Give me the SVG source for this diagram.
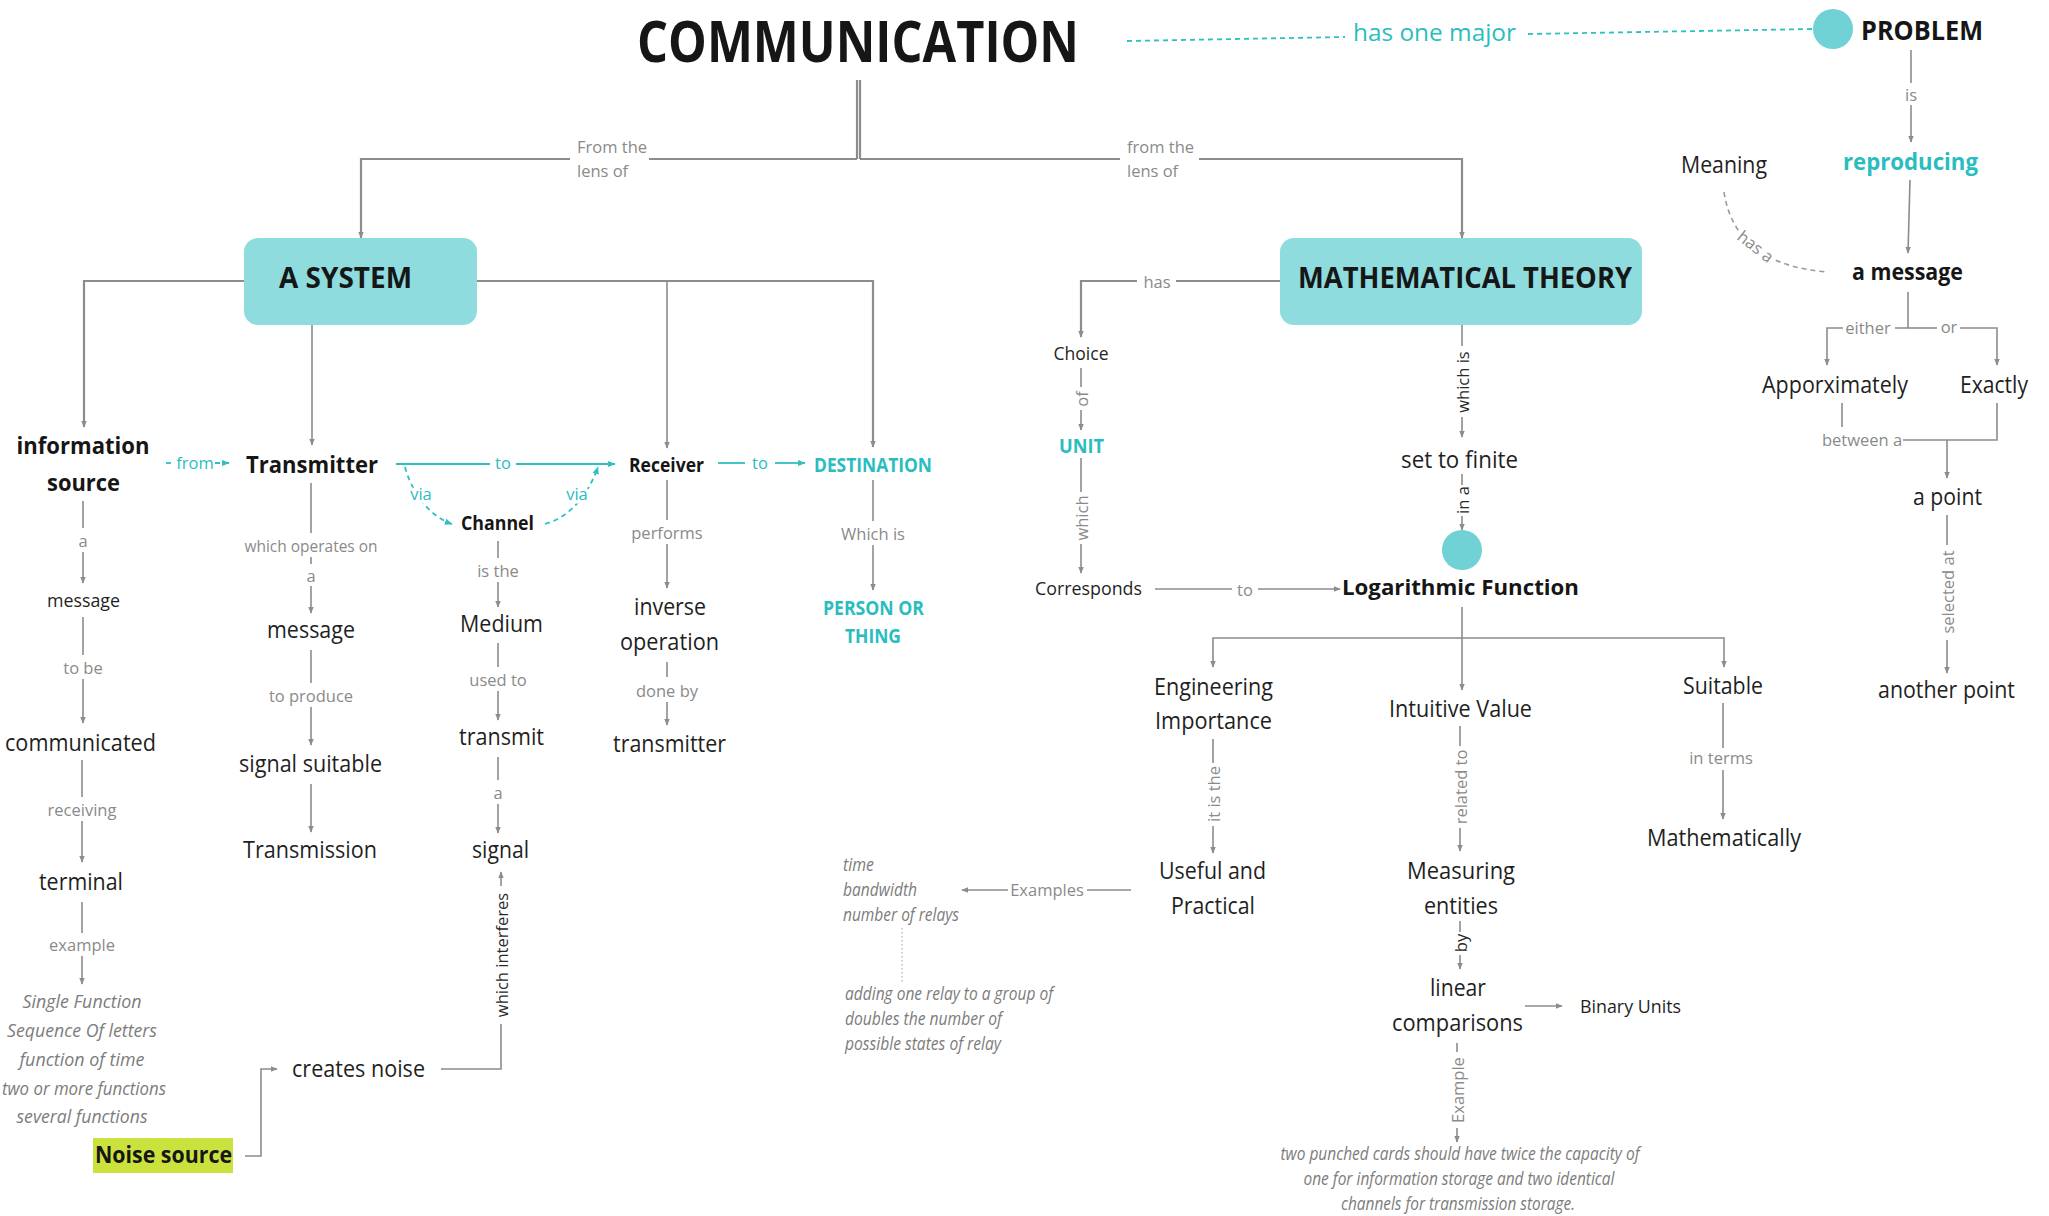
<svg xmlns="http://www.w3.org/2000/svg" width="2049" height="1216" viewBox="0 0 2049 1216">
  <defs>
    <style>
      text { font-family: 'Open Sans', 'Noto Sans', 'Liberation Sans', sans-serif; }
      .n { font-size: 23.5px; fill: #1f1f1f; text-anchor: middle; }
      .ns { font-size: 19px; fill: #1f1f1f; text-anchor: middle; }
      .b { font-weight: 700; fill: #161616; text-anchor: middle; }
      .teal { fill: #29bdc0; }
      .lbl { font-size: 16.5px; fill: #8a8a8a; text-anchor: middle; dominant-baseline: central; }
      .lbl-d { font-size: 16.5px; fill: #2a2a2a; text-anchor: middle; dominant-baseline: central; }
      .lbl-t { font-size: 16.5px; fill: #29bdc0; text-anchor: middle; dominant-baseline: central; }
      .halo { stroke: #ffffff; stroke-width: 7px; paint-order: stroke; stroke-linejoin: round; }
      .it { font-size: 18px; font-style: italic; fill: #7c7c7c; }
      .box { fill: #8edcde; }
      .dot { fill: #70d2d4; }
      .c { fill: none; stroke: #8c8c8c; stroke-width: 1.6; }
      .c2 { fill: none; stroke: #8c8c8c; stroke-width: 2.2; }
      .ct { fill: none; stroke: #2fc0c2; stroke-width: 1.8; }
      .cdt { fill: none; stroke: #2fc0c2; stroke-width: 1.8; stroke-dasharray: 5 4; }
      .cdg { fill: none; stroke: #9a9a9a; stroke-width: 1.6; stroke-dasharray: 5 4; }
      .dotted { fill: none; stroke: #b0b0b0; stroke-width: 1.2; stroke-dasharray: 1.5 2.5; }
    </style>
    <marker id="ah" viewBox="0 0 10 10" refX="9" refY="5" markerWidth="7" markerHeight="7" markerUnits="userSpaceOnUse" orient="auto">
      <path d="M0,1 L10,5 L0,9 z" fill="#8c8c8c"/>
    </marker>
    <marker id="aht" viewBox="0 0 10 10" refX="9" refY="5" markerWidth="8" markerHeight="8" markerUnits="userSpaceOnUse" orient="auto">
      <path d="M0,1 L10,5 L0,9 z" fill="#2fc0c2"/>
    </marker>
  </defs>

  <rect width="2049" height="1216" fill="#ffffff"/>

  <!-- connectors -->
  <g id="connectors">
    <!-- title trunk -->
    <path class="c2" d="M857 80 V159 M860 80 V159"/>
    <path class="c2" d="M857 159 H649"/>
    <path class="c2" d="M570 159 H361 V238" marker-end="url(#ah)"/>
    <path class="c2" d="M860 159 H1120"/>
    <path class="c2" d="M1199 159 H1462 V238" marker-end="url(#ah)"/>

    <!-- A SYSTEM branches -->
    <path class="c2" d="M244 281 H84 V427" marker-end="url(#ah)"/>
    <path class="c" d="M312 325 V445" marker-end="url(#ah)"/>
    <path class="c2" d="M477 281 H873 V447" marker-end="url(#ah)"/>
    <path class="c" d="M667 281 V448" marker-end="url(#ah)"/>

    <!-- information source column -->
    <path class="c" d="M83 501 V528"/>
    <path class="c" d="M83 552 V583" marker-end="url(#ah)"/>
    <path class="c" d="M83 617 V655"/>
    <path class="c" d="M83 679 V723" marker-end="url(#ah)"/>
    <path class="c" d="M82 760 V797"/>
    <path class="c" d="M82 821 V862" marker-end="url(#ah)"/>
    <path class="c" d="M82 902 V933"/>
    <path class="c" d="M82 956 V984" marker-end="url(#ah)"/>

    <!-- transmitter column -->
    <path class="c" d="M311 483 V533 M311 557 V564"/>
    <path class="c" d="M311 586 V613" marker-end="url(#ah)"/>
    <path class="c" d="M311 650 V683"/>
    <path class="c" d="M311 707 V745" marker-end="url(#ah)"/>
    <path class="c" d="M311 784 V832" marker-end="url(#ah)"/>

    <!-- teal flow along the system row -->
    <path class="cdt" d="M166 463 H175"/>
    <path class="cdt" d="M215 463 H229" marker-end="url(#aht)"/>
    <path class="ct" d="M396 464 H490"/>
    <path class="ct" d="M516 464 H615" marker-end="url(#aht)"/>
    <path class="cdt" d="M405 467 C411 490 428 516 452 524" marker-end="url(#aht)"/>
    <path class="cdt" d="M545 524 C570 517 588 495 598 467" marker-end="url(#aht)"/>
    <path class="ct" d="M718 463 H745"/>
    <path class="ct" d="M775 463 H805" marker-end="url(#aht)"/>

    <!-- channel column -->
    <path class="c" d="M498 541 V558"/>
    <path class="c" d="M498 582 V607" marker-end="url(#ah)"/>
    <path class="c" d="M498 643 V667"/>
    <path class="c" d="M498 691 V720" marker-end="url(#ah)"/>
    <path class="c" d="M498 757 V780"/>
    <path class="c" d="M498 804 V833" marker-end="url(#ah)"/>
    <path class="c" d="M441 1069 H501 V1024"/>
    <path class="c" d="M501 886 V872" marker-end="url(#ah)"/>

    <!-- noise source -->
    <path class="c" d="M245 1156 H261 V1069 H277" marker-end="url(#ah)"/>

    <!-- receiver column -->
    <path class="c" d="M667 480 V520"/>
    <path class="c" d="M667 544 V588" marker-end="url(#ah)"/>
    <path class="c" d="M667 662 V677"/>
    <path class="c" d="M667 702 V725" marker-end="url(#ah)"/>

    <!-- destination column -->
    <path class="c" d="M873 480 V521"/>
    <path class="c" d="M873 545 V590" marker-end="url(#ah)"/>

    <!-- mathematical theory: choice branch -->
    <path class="c2" d="M1280 281 H1176"/>
    <path class="c2" d="M1137 281 H1081 V337" marker-end="url(#ah)"/>
    <path class="c" d="M1081 368 V387"/>
    <path class="c" d="M1081 410 V430" marker-end="url(#ah)"/>
    <path class="c" d="M1081 458 V492"/>
    <path class="c" d="M1081 544 V573" marker-end="url(#ah)"/>
    <path class="c" d="M1155 589 H1232"/>
    <path class="c" d="M1258 589 H1340" marker-end="url(#ah)"/>

    <!-- mathematical theory: main stem -->
    <path class="c" d="M1462 325 V346"/>
    <path class="c" d="M1462 417 V437" marker-end="url(#ah)"/>
    <path class="c" d="M1462 474 V485"/>
    <path class="c" d="M1462 516 V530" marker-end="url(#ah)"/>
    <path class="c" d="M1462 607 V690" marker-end="url(#ah)"/>
    <path class="c" d="M1462 638 H1213 V667" marker-end="url(#ah)"/>
    <path class="c" d="M1462 638 H1724 V667" marker-end="url(#ah)"/>

    <!-- engineering importance -->
    <path class="c" d="M1213 739 V763"/>
    <path class="c" d="M1213 826 V853" marker-end="url(#ah)"/>
    <path class="c" d="M1131 890 H1087"/>
    <path class="c" d="M1008 890 H962" marker-end="url(#ah)"/>
    <path class="dotted" d="M902 928 V982"/>

    <!-- intuitive value -->
    <path class="c" d="M1460 726 V746"/>
    <path class="c" d="M1460 828 V851" marker-end="url(#ah)"/>
    <path class="c" d="M1460 921 V932"/>
    <path class="c" d="M1460 955 V969" marker-end="url(#ah)"/>
    <path class="c" d="M1525 1006 H1562" marker-end="url(#ah)"/>
    <path class="c" d="M1457 1043 V1052"/>
    <path class="c" d="M1457 1128 V1142" marker-end="url(#ah)"/>

    <!-- suitable -->
    <path class="c" d="M1723 703 V748"/>
    <path class="c" d="M1723 770 V819" marker-end="url(#ah)"/>

    <!-- problem branch -->
    <path class="cdt" d="M1127 41 L1345 37"/>
    <path class="cdt" d="M1528 34 L1813 29"/>
    <path class="c" d="M1911 50 V83"/>
    <path class="c" d="M1911 105 V142" marker-end="url(#ah)"/>
    <path class="c" d="M1910 180 L1908 253" marker-end="url(#ah)"/>
    <path class="cdg" d="M1724 192 Q1735 265 1828 272"/>
    <path class="c" d="M1908 292 V328 H1895"/>
    <path class="c" d="M1843 328 H1827 V365" marker-end="url(#ah)"/>
    <path class="c" d="M1908 328 H1937"/>
    <path class="c" d="M1960 328 H1997 V365" marker-end="url(#ah)"/>
    <path class="c" d="M1842 403 V427"/>
    <path class="c" d="M1903 440 H1997 V403"/>
    <path class="c" d="M1947 440 V478" marker-end="url(#ah)"/>
    <path class="c" d="M1947 515 V545"/>
    <path class="c" d="M1947 640 V673" marker-end="url(#ah)"/>
  </g>

  <!-- connector labels -->
  <g id="labels">
    <text class="lbl" x="577" y="153" style="text-anchor:start;dominant-baseline:auto">From the</text>
    <text class="lbl" x="577" y="177" style="text-anchor:start;dominant-baseline:auto">lens of</text>
    <text class="lbl" x="1127" y="153" style="text-anchor:start;dominant-baseline:auto">from the</text>
    <text class="lbl" x="1127" y="177" style="text-anchor:start;dominant-baseline:auto">lens of</text>

    <text class="lbl" x="83" y="540">a</text>
    <text class="lbl" x="83" y="667">to be</text>
    <text class="lbl" x="82" y="809">receiving</text>
    <text class="lbl" x="82" y="944">example</text>

    <text class="lbl" x="311" y="545" textLength="133" lengthAdjust="spacingAndGlyphs">which operates on</text>
    <text class="lbl" x="311" y="575">a</text>
    <text class="lbl" x="311" y="695">to produce</text>

    <text class="lbl-t" x="195" y="462">from</text>
    <text class="lbl-t" x="503" y="462">to</text>
    <text class="lbl-t halo" x="421" y="493">via</text>
    <text class="lbl-t halo" x="577" y="493">via</text>
    <text class="lbl-t" x="760" y="462">to</text>

    <text class="lbl" x="498" y="570">is the</text>
    <text class="lbl" x="498" y="679">used to</text>
    <text class="lbl" x="498" y="792">a</text>
    <text class="lbl-d" transform="translate(501,955) rotate(-90)">which interferes</text>

    <text class="lbl" x="667" y="532">performs</text>
    <text class="lbl" x="667" y="690">done by</text>
    <text class="lbl" x="873" y="533">Which is</text>

    <text class="lbl" x="1157" y="281">has</text>
    <text class="lbl" transform="translate(1081,399) rotate(-90)">of</text>
    <text class="lbl" transform="translate(1081,518) rotate(-90)">which</text>
    <text class="lbl" x="1245" y="589">to</text>
    <text class="lbl-d" transform="translate(1462,382) rotate(-90)">which is</text>
    <text class="lbl-d" transform="translate(1462,500) rotate(-90)">in a</text>
    <text class="lbl" transform="translate(1213,794) rotate(-90)">it is the</text>
    <text class="lbl" x="1047" y="889">Examples</text>
    <text class="lbl" transform="translate(1460,787) rotate(-90)">related to</text>
    <text class="lbl-d" transform="translate(1460,943) rotate(-90)">by</text>
    <text class="lbl" transform="translate(1457,1090) rotate(-90)">Example</text>
    <text class="lbl" x="1721" y="757">in terms</text>

    <text class="lbl" x="1911" y="94">is</text>
    <text class="lbl halo" transform="translate(1756,246) rotate(38)">has a</text>
    <text class="lbl" x="1868" y="327">either</text>
    <text class="lbl" x="1949" y="326">or</text>
    <text class="lbl" x="1862" y="439">between a</text>
    <text class="lbl" transform="translate(1947,592) rotate(-90)">selected at</text>
  </g>

  <!-- nodes -->
  <g id="node-communication">
    <text class="b" x="858" y="62" font-size="58" textLength="442" lengthAdjust="spacingAndGlyphs">COMMUNICATION</text>
  </g>
  <g id="node-has-one-major">
    <text class="teal" x="1353" y="41" font-size="24" textLength="163" lengthAdjust="spacingAndGlyphs">has one major</text>
  </g>
  <g id="node-problem">
    <circle class="dot" cx="1833" cy="29" r="20"/>
    <text class="b" x="1861" y="40" font-size="27" style="text-anchor:start" textLength="122" lengthAdjust="spacingAndGlyphs">PROBLEM</text>
  </g>

  <g id="node-a-system">
    <rect class="box" x="244" y="238" width="233" height="87" rx="14"/>
    <text class="b" x="279" y="288" font-size="29" style="text-anchor:start" textLength="133" lengthAdjust="spacingAndGlyphs">A SYSTEM</text>
  </g>
  <g id="node-mathematical-theory">
    <rect class="box" x="1280" y="238" width="362" height="87" rx="14"/>
    <text class="b" x="1298" y="288" font-size="29" style="text-anchor:start" textLength="334" lengthAdjust="spacingAndGlyphs">MATHEMATICAL THEORY</text>
  </g>

  <g id="node-information-source">
    <text class="b" x="83" y="454" font-size="23" textLength="133" lengthAdjust="spacingAndGlyphs">information</text>
    <text class="b" x="83.5" y="491" font-size="23" textLength="73" lengthAdjust="spacingAndGlyphs">source</text>
  </g>
  <g id="node-message-1"><text class="ns" x="83.5" y="607" textLength="73" lengthAdjust="spacingAndGlyphs">message</text></g>
  <g id="node-communicated"><text class="n" x="80.5" y="751" textLength="151" lengthAdjust="spacingAndGlyphs">communicated</text></g>
  <g id="node-terminal"><text class="n" x="81" y="890" textLength="84" lengthAdjust="spacingAndGlyphs">terminal</text></g>
  <g id="node-examples-terminal">
    <text class="it" x="82" y="1008" font-size="20" text-anchor="middle" textLength="119" lengthAdjust="spacingAndGlyphs">Single Function</text>
    <text class="it" x="82" y="1037" font-size="20" text-anchor="middle" textLength="150" lengthAdjust="spacingAndGlyphs">Sequence Of letters</text>
    <text class="it" x="82" y="1066" font-size="20" text-anchor="middle" textLength="125" lengthAdjust="spacingAndGlyphs">function of time</text>
    <text class="it" x="84" y="1095" font-size="20" text-anchor="middle" textLength="164" lengthAdjust="spacingAndGlyphs">two or more functions</text>
    <text class="it" x="82" y="1123" font-size="20" text-anchor="middle" textLength="131" lengthAdjust="spacingAndGlyphs">several functions</text>
  </g>
  <g id="node-noise-source">
    <rect x="93" y="1138" width="140" height="35" fill="#cbe13e"/>
    <text class="b" x="163.5" y="1163" font-size="23" textLength="137" lengthAdjust="spacingAndGlyphs">Noise source</text>
  </g>
  <g id="node-creates-noise"><text class="n" x="358.5" y="1077" textLength="133" lengthAdjust="spacingAndGlyphs">creates noise</text></g>

  <g id="node-transmitter"><text class="b" x="312" y="473" font-size="23" textLength="132" lengthAdjust="spacingAndGlyphs">Transmitter</text></g>
  <g id="node-message-2"><text class="n" x="311" y="638" textLength="88" lengthAdjust="spacingAndGlyphs">message</text></g>
  <g id="node-signal-suitable"><text class="n" x="310.5" y="772" textLength="143" lengthAdjust="spacingAndGlyphs">signal suitable</text></g>
  <g id="node-transmission"><text class="n" x="310" y="858" textLength="134" lengthAdjust="spacingAndGlyphs">Transmission</text></g>

  <g id="node-channel"><text class="b" x="497.5" y="530" font-size="19.5" textLength="73" lengthAdjust="spacingAndGlyphs">Channel</text></g>
  <g id="node-medium"><text class="n" x="501.5" y="632" textLength="83" lengthAdjust="spacingAndGlyphs">Medium</text></g>
  <g id="node-transmit"><text class="n" x="501.5" y="745" textLength="85" lengthAdjust="spacingAndGlyphs">transmit</text></g>
  <g id="node-signal"><text class="n" x="500.5" y="858" textLength="57" lengthAdjust="spacingAndGlyphs">signal</text></g>

  <g id="node-receiver"><text class="b" x="666.5" y="472" font-size="19.5" textLength="75" lengthAdjust="spacingAndGlyphs">Receiver</text></g>
  <g id="node-inverse-operation">
    <text class="n" x="670" y="615" textLength="72" lengthAdjust="spacingAndGlyphs">inverse</text>
    <text class="n" x="669.5" y="650" textLength="99" lengthAdjust="spacingAndGlyphs">operation</text>
  </g>
  <g id="node-transmitter-2"><text class="n" x="669.5" y="752" textLength="113" lengthAdjust="spacingAndGlyphs">transmitter</text></g>

  <g id="node-destination"><text class="b teal" x="873" y="472" font-size="19.5" textLength="118" lengthAdjust="spacingAndGlyphs">DESTINATION</text></g>
  <g id="node-person-or-thing">
    <text class="b teal" x="873.5" y="615" font-size="19.5" textLength="101" lengthAdjust="spacingAndGlyphs">PERSON OR</text>
    <text class="b teal" x="873" y="643" font-size="19.5" textLength="56" lengthAdjust="spacingAndGlyphs">THING</text>
  </g>

  <g id="node-choice"><text class="ns" x="1081" y="360" textLength="55" lengthAdjust="spacingAndGlyphs">Choice</text></g>
  <g id="node-unit"><text class="b teal" x="1081.5" y="453" font-size="19" textLength="45" lengthAdjust="spacingAndGlyphs">UNIT</text></g>
  <g id="node-corresponds"><text class="ns" x="1088.5" y="595" textLength="107" lengthAdjust="spacingAndGlyphs">Corresponds</text></g>
  <g id="node-set-to-finite"><text class="n" x="1459.5" y="468" textLength="117" lengthAdjust="spacingAndGlyphs">set to finite</text></g>
  <g id="node-junction"><circle class="dot" cx="1462" cy="550" r="20"/></g>
  <g id="node-logarithmic-function"><text class="b" x="1460.5" y="595" font-size="22" textLength="237" lengthAdjust="spacingAndGlyphs">Logarithmic Function</text></g>

  <g id="node-engineering-importance">
    <text class="n" x="1213.5" y="695" textLength="119" lengthAdjust="spacingAndGlyphs">Engineering</text>
    <text class="n" x="1213.5" y="729" textLength="117" lengthAdjust="spacingAndGlyphs">Importance</text>
  </g>
  <g id="node-useful-practical">
    <text class="n" x="1212.5" y="879" textLength="107" lengthAdjust="spacingAndGlyphs">Useful and</text>
    <text class="n" x="1213" y="914" textLength="84" lengthAdjust="spacingAndGlyphs">Practical</text>
  </g>
  <g id="node-examples-list">
    <text class="it" x="843" y="871" font-size="17.5" textLength="31" lengthAdjust="spacingAndGlyphs">time</text>
    <text class="it" x="843" y="896" font-size="17.5" textLength="74" lengthAdjust="spacingAndGlyphs">bandwidth</text>
    <text class="it" x="843" y="921" font-size="17.5" textLength="116" lengthAdjust="spacingAndGlyphs">number of relays</text>
  </g>
  <g id="node-relay-note">
    <text class="it" x="845" y="1000" font-size="18.5" textLength="208" lengthAdjust="spacingAndGlyphs">adding one relay to a group of</text>
    <text class="it" x="845" y="1025" font-size="18.5" textLength="157" lengthAdjust="spacingAndGlyphs">doubles the number of</text>
    <text class="it" x="845" y="1050" font-size="18.5" textLength="156" lengthAdjust="spacingAndGlyphs">possible states of relay</text>
  </g>

  <g id="node-intuitive-value"><text class="n" x="1460.5" y="717" textLength="143" lengthAdjust="spacingAndGlyphs">Intuitive Value</text></g>
  <g id="node-measuring-entities">
    <text class="n" x="1461" y="879" textLength="108" lengthAdjust="spacingAndGlyphs">Measuring</text>
    <text class="n" x="1461" y="914" textLength="74" lengthAdjust="spacingAndGlyphs">entities</text>
  </g>
  <g id="node-linear-comparisons">
    <text class="n" x="1458" y="996" textLength="56" lengthAdjust="spacingAndGlyphs">linear</text>
    <text class="n" x="1457.5" y="1031" textLength="131" lengthAdjust="spacingAndGlyphs">comparisons</text>
  </g>
  <g id="node-binary-units"><text class="ns" x="1630.5" y="1013" textLength="101" lengthAdjust="spacingAndGlyphs">Binary Units</text></g>
  <g id="node-punched-cards">
    <text class="it" x="1460" y="1160" font-size="17.5" text-anchor="middle" textLength="359" lengthAdjust="spacingAndGlyphs">two punched cards should have twice the capacity of</text>
    <text class="it" x="1459" y="1185" font-size="17.5" text-anchor="middle" textLength="311" lengthAdjust="spacingAndGlyphs">one for information storage and two identical</text>
    <text class="it" x="1458" y="1210" font-size="17.5" text-anchor="middle" textLength="234" lengthAdjust="spacingAndGlyphs">channels for transmission storage.</text>
  </g>

  <g id="node-suitable"><text class="n" x="1723" y="694" textLength="80" lengthAdjust="spacingAndGlyphs">Suitable</text></g>
  <g id="node-mathematically"><text class="n" x="1724" y="846" textLength="154" lengthAdjust="spacingAndGlyphs">Mathematically</text></g>

  <g id="node-reproducing"><text class="b teal" x="1910.5" y="170" font-size="23" textLength="135" lengthAdjust="spacingAndGlyphs">reproducing</text></g>
  <g id="node-meaning"><text class="n" x="1724" y="173" textLength="86" lengthAdjust="spacingAndGlyphs">Meaning</text></g>
  <g id="node-a-message"><text class="b" x="1907.5" y="280" font-size="23" textLength="111" lengthAdjust="spacingAndGlyphs">a message</text></g>
  <g id="node-approximately"><text class="n" x="1835" y="393" textLength="146" lengthAdjust="spacingAndGlyphs">Apporximately</text></g>
  <g id="node-exactly"><text class="n" x="1994" y="393" textLength="68" lengthAdjust="spacingAndGlyphs">Exactly</text></g>
  <g id="node-a-point"><text class="n" x="1947.5" y="505" textLength="69" lengthAdjust="spacingAndGlyphs">a point</text></g>
  <g id="node-another-point"><text class="n" x="1946.5" y="698" textLength="137" lengthAdjust="spacingAndGlyphs">another point</text></g>
</svg>
